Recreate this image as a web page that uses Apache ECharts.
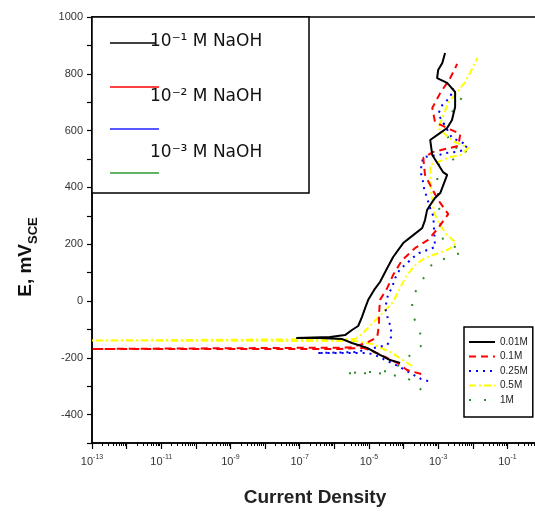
<!DOCTYPE html>
<html><head><meta charset="utf-8">
<script src="https://cdn.jsdelivr.net/npm/echarts@6/dist/echarts.min.js"></script>
<style>html,body{margin:0;padding:0;background:#fff}#c{width:535px;height:514px}</style>
</head><body><div id="c"></div><script>
// x values are log10(current density), y values are E in mV vs SCE
var seriesNames = ['0.01M', '0.1M', '0.25M', '0.5M', '1M'];
var xTickLabels = [-13, -11, -9, -7, -5, -3, -1];
var yTickLabels = [-400, -200, 0, 200, 400, 600, 800, 1000];
var legendBoxTexts = ['10\u207B\u00B9 M NaOH', '10\u207B\u00B2 M NaOH', '10\u207B\u00B3 M NaOH'];

var logI_001 = [-4.10,-4.39,-4.68,-5.05,-5.49,-5.77,-6.41,-7.10,-6.12,-5.69,-5.49,-5.31,-5.20,-5.11,-5.02,-4.85,-4.68,-4.47,-4.30,-4.01,-3.72,-3.46,-3.38,-3.32,-3.23,-3.09,-2.94,-2.74,-2.86,-3.17,-3.23,-2.94,-2.74,-2.60,-2.51,-2.51,-2.74,-3.03,-3.00,-2.88,-2.80];
var E_001    = [-218,-208,-190,-165,-148,-134,-130,-130,-127,-120,-102,-88,-56,-25,4,39,67,116,155,204,232,257,285,320,338,363,380,444,454,514,567,592,609,637,683,736,768,785,813,838,873];

var logI_01 = [-3.49,-3.90,-4.18,-4.53,-4.91,-5.17,-5.83,-13.0,-13.0,-5.54,-5.08,-4.76,-4.71,-4.71,-4.68,-4.47,-4.30,-4.04,-3.66,-3.29,-3.00,-2.71,-3.00,-3.23,-3.38,-3.43,-3.14,-2.80,-2.42,-2.36,-2.74,-3.09,-3.17,-2.94,-2.65,-2.45];
var E_01    = [-257,-243,-218,-197,-176,-165,-169,-169,-166,-164,-148,-127,-84,-49,4,46,92,144,187,215,257,306,356,408,444,504,525,535,546,588,609,630,680,732,785,835];

var logI_025 = [-3.29,-3.49,-4.16,-4.76,-5.02,-6.50,-5.40,-4.47,-4.36,-4.36,-4.45,-4.53,-4.45,-4.33,-4.24,-4.10,-3.92,-3.75,-3.55,-3.09,-3.14,-3.23,-3.32,-3.40,-3.43,-3.49,-3.49,-3.43,-2.97,-2.80,-2.48,-2.25,-2.16,-2.39,-2.60,-3.00,-2.88,-2.65,-2.57];
var E_025    = [-282,-275,-229,-194,-183,-183,-180,-155,-127,-95,-63,-25,21,49,81,113,130,151,169,190,299,327,363,391,416,447,475,507,514,521,525,532,549,563,574,658,690,718,750];

var logI_05 = [-3.75,-4.33,-4.91,-5.40,-13.0,-13.0,-5.40,-5.20,-4.47,-4.30,-4.16,-3.95,-3.72,-3.43,-3.23,-2.68,-2.48,-2.77,-3.00,-3.12,-3.20,-3.23,-2.65,-2.36,-2.13,-2.57,-3.00,-2.88,-2.71,-2.22,-2.08,-1.87];
var E_05    = [-229,-183,-151,-141,-139,-136,-134,-116,-25,-3,32,81,120,148,158,183,204,236,278,313,384,479,507,514,539,563,609,644,697,771,803,856];

var logI_1 = [-3.49,-3.69,-3.90,-4.30,-4.73,-5.69,-4.33,-3.40,-3.61,-3.75,-3.75,-3.14,-2.74,-2.28,-2.86,-2.94,-3.03,-3.00,-2.60,-2.13,-2.60,-2.86,-2.45,-2.31];
var E_1    = [-313,-289,-271,-261,-254,-254,-246,-148,-88,-42,14,137,151,173,215,278,419,479,496,532,542,620,690,718];

function pairs(xs, ys) { return xs.map(function (x, i) { return [x, ys[i]]; }); }

var minorTicks = [];
for (var n = -13; n < 0; n++) { for (var k = 2; k <= 9; k++) { minorTicks.push(n + Math.log10(k)); } }
var majorTicks = [];
for (var m = -13; m <= 0; m++) { majorTicks.push(m); }

var chart = echarts.init(document.getElementById('c'), null, {renderer: 'canvas'});
var FONT = 'Liberation Sans, Arial, sans-serif';

chart.setOption({
  animation: false,
  backgroundColor: '#fff',
  grid: {left: 92, top: 17, width: 450, height: 426, outerBoundsMode: 'none', containLabel: false,
         show: true, borderColor: '#000', borderWidth: 1.5, backgroundColor: 'transparent'},
  xAxis: [{
    type: 'value', min: -13, max: 0, interval: 1,
    axisLine: {show: true, onZero: false, lineStyle: {color: '#000', width: 1.5}},
    axisTick: {show: true, length: 6, lineStyle: {color: '#000', width: 1.2}, customValues: majorTicks},
    splitLine: {show: false},
    axisLabel: {
      customValues: xTickLabels, margin: 11, color: '#333',
      formatter: function (v) { return '{a|10}{b|' + v + '}'; },
      rich: {
        a: {fontSize: 11, fontFamily: FONT, color: '#333', lineHeight: 16, verticalAlign: 'middle'},
        b: {fontSize: 7, fontFamily: FONT, color: '#333', lineHeight: 8, verticalAlign: 'top'}
      }
    },
    name: 'Current Density', nameLocation: 'middle', nameGap: 45,
    nameTextStyle: {fontSize: 19, fontFamily: FONT, color: '#222', fontWeight: 'bold', padding: [0, 4, 0, 0]}
  }, {
    type: 'value', min: -13, max: 0, position: 'bottom',
    axisLine: {show: false, onZero: false},
    axisTick: {show: true, length: 3, lineStyle: {color: '#000', width: 1}, customValues: minorTicks},
    axisLabel: {show: false}, splitLine: {show: false}
  }],
  yAxis: {
    type: 'value', min: -500, max: 1000, interval: 100,
    axisLine: {show: true, onZero: false, lineStyle: {color: '#000', width: 1.5}},
    axisTick: {show: true, length: 5, lineStyle: {color: '#000', width: 1.2}},
    splitLine: {show: false},
    axisLabel: {
      customValues: yTickLabels, margin: 9, fontSize: 11, fontFamily: FONT, color: '#333',
      formatter: function (v) { return String(v); }
    },
    name: '{a|E, mV}{b|SCE}', nameLocation: 'middle', nameGap: 52, nameRotate: 90,
    nameTextStyle: {
      padding: [0, 54, 0, 0],
      rich: {
        a: {fontSize: 19, fontWeight: 'bold', fontFamily: FONT, color: '#111', lineHeight: 28, verticalAlign: 'middle'},
        b: {fontSize: 13, fontWeight: 'bold', fontFamily: FONT, color: '#111', lineHeight: 13, verticalAlign: 'bottom'}
      }
    }
  },
  legend: {
    data: seriesNames, orient: 'vertical', left: 464, top: 327,
    itemWidth: 26, itemHeight: 11, itemGap: 4.5,
    padding: [10, 5, 12, 4],
    borderColor: '#000', borderWidth: 1.5, backgroundColor: '#fff',
    itemStyle: {opacity: 0},
    textStyle: {fontSize: 10, fontFamily: FONT, color: '#222'},
    selectedMode: false
  },
  series: [
    {name: seriesNames[4], type: 'line', data: pairs(logI_1, E_1), symbol: 'none', z: 2,
     lineStyle: {color: '#2e8b2e', width: 2, type: [2, 13]}, itemStyle: {color: '#2e8b2e'}},
    {name: seriesNames[3], type: 'line', data: pairs(logI_05, E_05), symbol: 'none', z: 3,
     lineStyle: {color: '#ffff00', width: 2, type: [7, 3, 2, 3]}, itemStyle: {color: '#ffff00'}},
    {name: seriesNames[2], type: 'line', data: pairs(logI_025, E_025), symbol: 'none', z: 4,
     lineStyle: {color: '#0000ff', width: 2, type: [2, 5]}, itemStyle: {color: '#0000ff'}},
    {name: seriesNames[1], type: 'line', data: pairs(logI_01, E_01), symbol: 'none', z: 5,
     lineStyle: {color: '#ff0000', width: 2, type: [7, 5]}, itemStyle: {color: '#ff0000'}},
    {name: seriesNames[0], type: 'line', data: pairs(logI_001, E_001), symbol: 'none', z: 6,
     lineStyle: {color: '#000', width: 2, type: 'solid'}, itemStyle: {color: '#000'}}
  ],
  graphic: [
    {type: 'rect', z: 100, shape: {x: 92, y: 17, width: 217, height: 176},
     style: {fill: '#fff', stroke: '#000', lineWidth: 1.5}},
    {type: 'line', z: 101, shape: {x1: 110, y1: 43, x2: 156, y2: 43}, style: {stroke: '#000', lineWidth: 1.5}},
    {type: 'line', z: 101, shape: {x1: 110, y1: 87, x2: 159, y2: 87}, style: {stroke: '#ff0000', lineWidth: 1.5}},
    {type: 'line', z: 101, shape: {x1: 110, y1: 129, x2: 159, y2: 129}, style: {stroke: '#2020ff', lineWidth: 1.5}},
    {type: 'line', z: 101, shape: {x1: 110, y1: 173, x2: 159, y2: 173}, style: {stroke: '#2e9a2e', lineWidth: 1.5}},
    {type: 'text', z: 102, x: 150, y: 42, style: {text: legendBoxTexts[0], font: '17px "DejaVu Sans"', fill: '#111', verticalAlign: 'middle'}},
    {type: 'text', z: 102, x: 150, y: 97, style: {text: legendBoxTexts[1], font: '17px "DejaVu Sans"', fill: '#111', verticalAlign: 'middle'}},
    {type: 'text', z: 102, x: 150, y: 153, style: {text: legendBoxTexts[2], font: '17px "DejaVu Sans"', fill: '#111', verticalAlign: 'middle'}}
  ]
});
</script></body></html>
